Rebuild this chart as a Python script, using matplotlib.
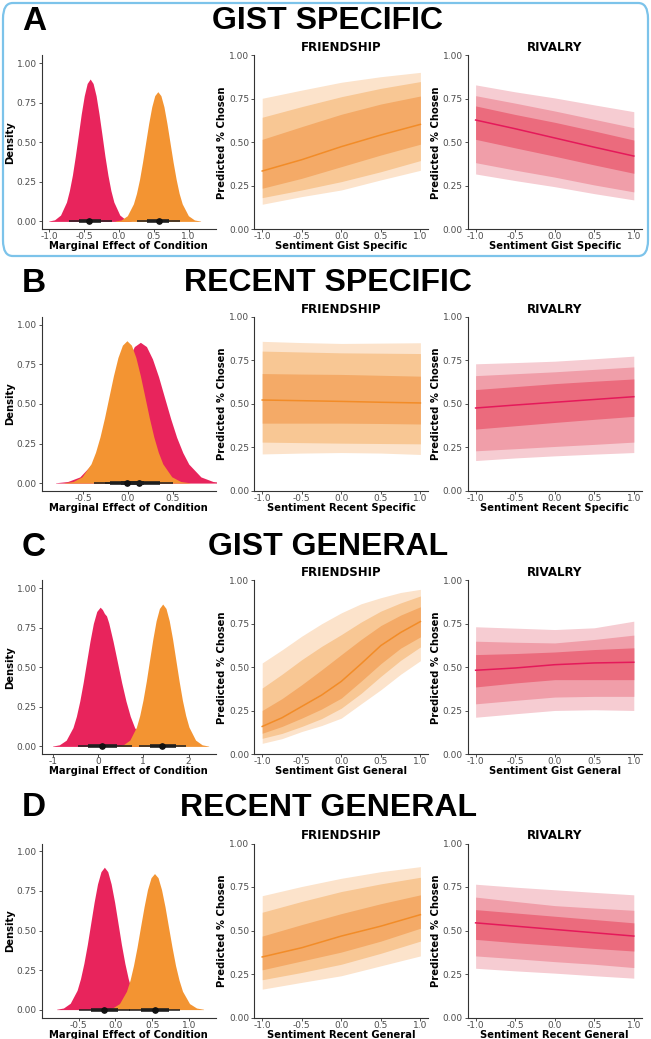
import matplotlib.pyplot as plt
from matplotlib.patches import FancyBboxPatch

PINK = "#E8245C"
ORANGE = "#F39432"
ORANGE_BANDS = ["#FCE3CB", "#F8C794", "#F4AA67"]   # 95, 80, 50
ORANGE_LINE = "#F28C28"
PINK_BANDS = ["#F6CCD2", "#F09EA9", "#EB6B7D"]
PINK_LINE = "#E5195A"

row_letters = ["A", "B", "C", "D"]
row_titles = ["GIST SPECIFIC", "RECENT SPECIFIC", "GIST GENERAL", "RECENT GENERAL"]
sent_labels = ["Sentiment Gist Specific", "Sentiment Recent Specific",
               "Sentiment Gist General", "Sentiment Recent General"]

# posterior density of the marginal effect (rivalry = pink, friendship = orange)
a_pink_x = [-1.005, -0.92, -0.835, -0.75, -0.708, -0.665, -0.623, -0.58, -0.538, -0.495, -0.453, -0.41,
            -0.368, -0.325, -0.283, -0.24, -0.198, -0.155, -0.113, -0.07, 0.015, 0.10, 0.185]
a_pink_y = [0.002, 0.010, 0.040, 0.122, 0.195, 0.292, 0.412, 0.546, 0.679, 0.794, 0.872, 0.90,
            0.872, 0.794, 0.679, 0.546, 0.412, 0.292, 0.195, 0.122, 0.040, 0.010, 0.002]
a_orange_x = [-0.053, 0.035, 0.123, 0.21, 0.254, 0.298, 0.341, 0.385, 0.429, 0.473, 0.516, 0.56,
              0.604, 0.648, 0.691, 0.735, 0.779, 0.823, 0.866, 0.91, 0.998, 1.085, 1.173]
a_orange_y = [0.002, 0.009, 0.036, 0.111, 0.177, 0.266, 0.375, 0.497, 0.619, 0.724, 0.795, 0.82,
              0.795, 0.724, 0.619, 0.497, 0.375, 0.266, 0.177, 0.111, 0.036, 0.009, 0.002]

b_pink_x = [-0.805, -0.67, -0.535, -0.40, -0.333, -0.265, -0.198, -0.13, -0.063, 0.005, 0.073, 0.14,
            0.208, 0.275, 0.343, 0.41, 0.478, 0.545, 0.613, 0.68, 0.815, 0.95, 1.085]
b_pink_y = [0.002, 0.010, 0.039, 0.120, 0.193, 0.289, 0.407, 0.540, 0.672, 0.785, 0.863, 0.89,
            0.863, 0.785, 0.672, 0.540, 0.407, 0.289, 0.193, 0.120, 0.039, 0.010, 0.002]
b_orange_x = [-0.71, -0.61, -0.51, -0.41, -0.36, -0.31, -0.26, -0.21, -0.16, -0.11, -0.06, -0.01,
              0.04, 0.09, 0.14, 0.19, 0.24, 0.29, 0.34, 0.39, 0.49, 0.59, 0.69]
b_orange_y = [0.002, 0.010, 0.040, 0.122, 0.195, 0.292, 0.412, 0.546, 0.679, 0.794, 0.872, 0.90,
              0.872, 0.794, 0.679, 0.546, 0.412, 0.292, 0.195, 0.122, 0.040, 0.010, 0.002]

c_pink_x = [-1.0, -0.85, -0.70, -0.55, -0.475, -0.40, -0.325, -0.25, -0.175, -0.10, -0.025, 0.05,
            0.10, 0.145, 0.19, 0.24, 0.335, 0.43, 0.525, 0.62, 0.715, 0.81, 1.0, 1.19, 1.38]
c_pink_y = [0.002, 0.010, 0.039, 0.119, 0.190, 0.286, 0.403, 0.534, 0.664, 0.777, 0.853, 0.88,
            0.865, 0.84, 0.825, 0.78, 0.664, 0.534, 0.403, 0.286, 0.190, 0.119, 0.039, 0.010, 0.002]
c_orange_x = [0.415, 0.56, 0.705, 0.85, 0.923, 0.995, 1.068, 1.14, 1.213, 1.285, 1.358, 1.43,
              1.503, 1.575, 1.648, 1.72, 1.793, 1.865, 1.938, 2.01, 2.155, 2.30, 2.445]
c_orange_y = [0.002, 0.010, 0.040, 0.122, 0.195, 0.292, 0.412, 0.546, 0.679, 0.794, 0.872, 0.90,
              0.872, 0.794, 0.679, 0.546, 0.412, 0.292, 0.195, 0.122, 0.040, 0.010, 0.002]

d_pink_x = [-0.798, -0.705, -0.613, -0.52, -0.474, -0.428, -0.381, -0.335, -0.289, -0.243, -0.196, -0.15,
            -0.104, -0.058, -0.011, 0.035, 0.081, 0.128, 0.174, 0.22, 0.313, 0.405, 0.498]
d_pink_y = [0.002, 0.010, 0.040, 0.122, 0.195, 0.292, 0.412, 0.546, 0.679, 0.794, 0.872, 0.90,
            0.872, 0.794, 0.679, 0.546, 0.412, 0.292, 0.195, 0.122, 0.040, 0.010, 0.002]
d_orange_x = [-0.135, -0.04, 0.055, 0.15, 0.198, 0.245, 0.293, 0.34, 0.388, 0.435, 0.483, 0.53,
              0.578, 0.625, 0.673, 0.72, 0.768, 0.815, 0.863, 0.91, 1.005, 1.10, 1.195]
d_orange_y = [0.002, 0.010, 0.038, 0.116, 0.186, 0.279, 0.394, 0.522, 0.649, 0.759, 0.834, 0.86,
              0.834, 0.759, 0.649, 0.522, 0.394, 0.279, 0.186, 0.116, 0.038, 0.010, 0.002]

# point intervals: median, 66% lo, 66% hi, 95% lo, 95% hi
a_pink_iv = [-0.42, -0.57, -0.26, -0.72, -0.09]
a_orange_iv = [0.57, 0.41, 0.72, 0.26, 0.88]
b_pink_iv = [0.13, -0.08, 0.36, -0.25, 0.50]
b_orange_iv = [-0.01, -0.20, 0.18, -0.38, 0.36]
c_pink_iv = [0.09, -0.22, 0.42, -0.44, 0.75]
c_orange_iv = [1.42, 1.14, 1.72, 0.90, 1.94]
d_pink_iv = [-0.15, -0.33, 0.03, -0.50, 0.20]
d_orange_iv = [0.53, 0.35, 0.72, 0.18, 0.88]

dens_xlims = [(-1.105, 1.39), (-0.96, 0.98), (-1.24, 2.6), (-1.0, 1.36)]
dens_xticks = [[-1.0, -0.5, 0.0, 0.5, 1.0], [-0.5, 0.0, 0.5], [-1, 0, 1, 2], [-0.5, 0.0, 0.5, 1.0]]
dens_xticklabels = [["-1.0", "-0.5", "0.0", "0.5", "1.0"], ["-0.5", "0.0", "0.5"],
                    ["-1", "0", "1", "2"], ["-0.5", "0.0", "0.5", "1.0"]]

# predicted % chosen; rows: 95 lo, 80 lo, 50 lo, median, 50 hi, 80 hi, 95 hi
sent5 = [-1.0, -0.5, 0.0, 0.5, 1.0]
sent9 = [-1.0, -0.75, -0.5, -0.25, 0.0, 0.25, 0.5, 0.75, 1.0]

a_friend = [[0.144, 0.188, 0.226, 0.284, 0.339],
            [0.182, 0.226, 0.274, 0.331, 0.395],
            [0.236, 0.293, 0.360, 0.427, 0.489],
            [0.335, 0.400, 0.475, 0.542, 0.603],
            [0.517, 0.590, 0.661, 0.720, 0.766],
            [0.644, 0.705, 0.762, 0.810, 0.849],
            [0.753, 0.800, 0.845, 0.877, 0.902]]
a_rival = [[0.318, 0.280, 0.245, 0.205, 0.169],
           [0.383, 0.340, 0.300, 0.255, 0.215],
           [0.517, 0.468, 0.420, 0.370, 0.322],
           [0.628, 0.578, 0.525, 0.472, 0.421],
           [0.709, 0.660, 0.615, 0.565, 0.513],
           [0.768, 0.725, 0.680, 0.632, 0.584],
           [0.830, 0.790, 0.755, 0.715, 0.676]]
b_friend = [[0.213, 0.218, 0.221, 0.218, 0.210],
            [0.281, 0.278, 0.275, 0.273, 0.271],
            [0.390, 0.390, 0.390, 0.388, 0.385],
            [0.523, 0.519, 0.515, 0.510, 0.506],
            [0.675, 0.672, 0.670, 0.665, 0.660],
            [0.804, 0.799, 0.794, 0.792, 0.790],
            [0.860, 0.853, 0.848, 0.850, 0.852]]
b_rival = [[0.175, 0.190, 0.202, 0.212, 0.221],
           [0.231, 0.243, 0.256, 0.268, 0.281],
           [0.356, 0.375, 0.394, 0.412, 0.429],
           [0.477, 0.494, 0.510, 0.526, 0.542],
           [0.583, 0.600, 0.617, 0.631, 0.644],
           [0.663, 0.674, 0.685, 0.699, 0.713],
           [0.731, 0.738, 0.746, 0.760, 0.775]]
c_friend = [[0.063, 0.090, 0.131, 0.165, 0.208, 0.290, 0.371, 0.460, 0.538],
            [0.092, 0.120, 0.160, 0.205, 0.265, 0.350, 0.448, 0.540, 0.617],
            [0.121, 0.160, 0.208, 0.260, 0.323, 0.420, 0.521, 0.610, 0.675],
            [0.160, 0.210, 0.275, 0.340, 0.419, 0.520, 0.625, 0.700, 0.763],
            [0.252, 0.320, 0.400, 0.485, 0.573, 0.660, 0.740, 0.800, 0.848],
            [0.381, 0.460, 0.544, 0.620, 0.688, 0.760, 0.823, 0.870, 0.910],
            [0.525, 0.600, 0.679, 0.750, 0.813, 0.865, 0.900, 0.930, 0.948]]
c_rival = [[0.213, 0.233, 0.252, 0.256, 0.252],
           [0.290, 0.310, 0.329, 0.333, 0.333],
           [0.387, 0.410, 0.429, 0.429, 0.429],
           [0.483, 0.496, 0.515, 0.525, 0.529],
           [0.573, 0.579, 0.588, 0.602, 0.612],
           [0.650, 0.644, 0.640, 0.660, 0.685],
           [0.733, 0.725, 0.717, 0.727, 0.765]]
d_friend = [[0.163, 0.202, 0.240, 0.297, 0.354],
            [0.217, 0.259, 0.306, 0.369, 0.439],
            [0.274, 0.325, 0.376, 0.439, 0.513],
            [0.348, 0.401, 0.468, 0.525, 0.591],
            [0.468, 0.534, 0.597, 0.654, 0.705],
            [0.605, 0.667, 0.724, 0.768, 0.806],
            [0.700, 0.753, 0.800, 0.838, 0.867]]
d_rival = [[0.283, 0.268, 0.255, 0.240, 0.226],
           [0.354, 0.338, 0.321, 0.306, 0.287],
           [0.449, 0.430, 0.414, 0.397, 0.382],
           [0.544, 0.525, 0.506, 0.487, 0.468],
           [0.620, 0.601, 0.582, 0.563, 0.544],
           [0.692, 0.667, 0.643, 0.629, 0.616],
           [0.766, 0.749, 0.734, 0.719, 0.705]]

slabs = [(a_pink_x, a_pink_y, a_orange_x, a_orange_y),
         (b_pink_x, b_pink_y, b_orange_x, b_orange_y),
         (c_pink_x, c_pink_y, c_orange_x, c_orange_y),
         (d_pink_x, d_pink_y, d_orange_x, d_orange_y)]
intervals = [(a_pink_iv, a_orange_iv), (b_pink_iv, b_orange_iv),
             (c_pink_iv, c_orange_iv), (d_pink_iv, d_orange_iv)]
ribbons = [(sent5, a_friend, sent5, a_rival),
           (sent5, b_friend, sent5, b_rival),
           (sent9, c_friend, sent5, c_rival),
           (sent5, d_friend, sent5, d_rival)]

plt.rcParams['font.family'] = 'DejaVu Sans'
TICK_COL = "#4D4D4D"

fig = plt.figure(figsize=(6.51, 10.39), dpi=100)
W, H = 651.0, 1039.0

col_left = [41.7, 254.3, 467.7]
col_w = 174.0
row_bottom = [229.3, 491.0, 754.3, 1017.5]
row_h = 174.0
title_y = [21, 283, 547, 808]


def style_axes(ax):
    for s in ["top", "right"]:
        ax.spines[s].set_visible(False)
    for s in ["left", "bottom"]:
        ax.spines[s].set_color("#333333")
        ax.spines[s].set_linewidth(0.8)
    ax.tick_params(length=2, width=0.6, color="#333333", labelsize=6.5,
                   labelcolor=TICK_COL)
    ax.tick_params(axis="x", pad=0.3)
    ax.tick_params(axis="y", pad=1.5)


def draw_ribbon(ax, xs, rows, bands, line_col):
    for i, col in enumerate(bands):
        ax.fill_between(xs, rows[i], rows[6 - i], color=col, lw=0)
    ax.plot(xs, rows[3], color=line_col, lw=1.1)


for r in range(4):
    yb = 1 - row_bottom[r] / H
    axes = [fig.add_axes([col_left[c] / W, yb, col_w / W, row_h / H]) for c in range(3)]

    # density panel
    ax = axes[0]
    px, py, ox, oy = slabs[r]
    ax.fill_between(px, 0, py, color=PINK, lw=0)
    ax.fill_between(ox, 0, oy, color=ORANGE, lw=0)
    for iv in intervals[r]:
        ax.plot([iv[3], iv[4]], [0, 0], color="#1E1E1E", lw=1.1, solid_capstyle="butt")
        ax.plot([iv[1], iv[2]], [0, 0], color="#1E1E1E", lw=2.6, solid_capstyle="butt")
        ax.plot([iv[0]], [0], "o", color="#111111", ms=3.8)
    ax.set_xlim(*dens_xlims[r])
    ax.set_ylim(-0.05, 1.05)
    ax.set_xticks(dens_xticks[r])
    ax.set_xticklabels(dens_xticklabels[r])
    ax.set_yticks([0, 0.25, 0.5, 0.75, 1.0])
    ax.set_yticklabels(["0.00", "0.25", "0.50", "0.75", "1.00"])
    ax.set_xlabel("Marginal Effect of Condition", fontsize=7.2, fontweight="bold", labelpad=0)
    ax.set_ylabel("Density", fontsize=7.2, fontweight="bold", labelpad=1.5)
    style_axes(ax)

    fx, frows, rx, rrows = ribbons[r]
    for ax, xs, rows, bands, lc, ttl in [(axes[1], fx, frows, ORANGE_BANDS, ORANGE_LINE, "FRIENDSHIP"),
                                        (axes[2], rx, rrows, PINK_BANDS, PINK_LINE, "RIVALRY")]:
        draw_ribbon(ax, xs, rows, bands, lc)
        ax.set_xlim(-1.1, 1.1)
        ax.set_ylim(0, 1)
        ax.set_xticks([-1.0, -0.5, 0.0, 0.5, 1.0])
        ax.set_xticklabels(["-1.0", "-0.5", "0.0", "0.5", "1.0"])
        ax.set_yticks([0, 0.25, 0.5, 0.75, 1.0])
        ax.set_yticklabels(["0.00", "0.25", "0.50", "0.75", "1.00"])
        ax.set_title(ttl, fontsize=8.5, fontweight="bold", pad=3)
        ax.set_xlabel(sent_labels[r], fontsize=7.2, fontweight="bold", labelpad=0)
        ax.set_ylabel("Predicted % Chosen", fontsize=7.2, fontweight="bold", labelpad=1.5)
        style_axes(ax)

    fig.text(22 / W, 1 - title_y[r] / H, row_letters[r], fontsize=24, fontweight="bold",
             family="Liberation Sans", ha="left", va="center")
    fig.text(328 / W, 1 - title_y[r] / H, row_titles[r], fontsize=23, fontweight="bold",
             family="Liberation Sans", ha="center", va="center")

# highlight box around panel A
box = FancyBboxPatch((3 / W, 1 - 256 / H), 645 / W, 253 / H,
                     boxstyle="round,pad=0,rounding_size=0.015",
                     transform=fig.transFigure, fill=False, ec="#7CC3EA", lw=1.6)
fig.patches.append(box)

fig.savefig("out.png", dpi=100)
